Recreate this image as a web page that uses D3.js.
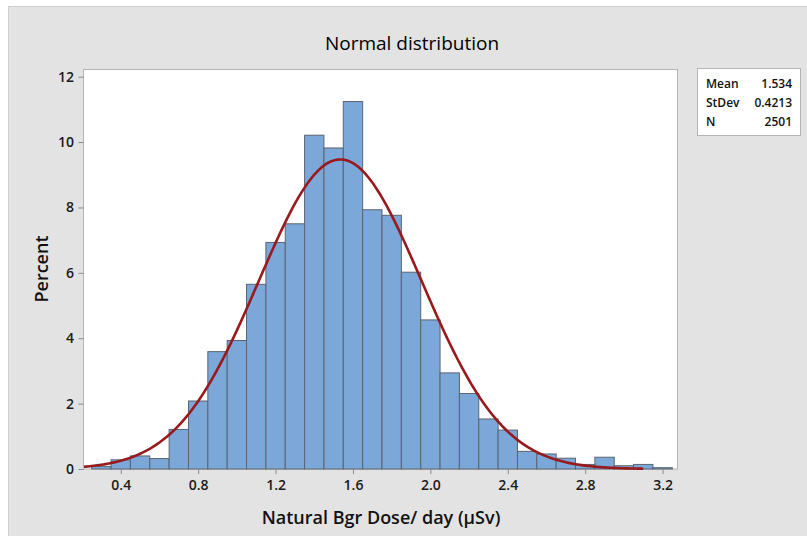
<!DOCTYPE html>
<html>
<head>
<meta charset="utf-8">
<script src="https://cdn.jsdelivr.net/npm/d3@7"></script>
<style>
	body { margin: 0; background: #fff; }
	text { font-family: "Open Sans", "Noto Sans", sans-serif; }
</style>
</head>
<body>
<div id="divplot"></div>
<script>
// Histogram of natural background dose, with fitted normal curve

const binCenters = [0.3, 0.4, 0.5, 0.6, 0.7, 0.8, 0.9, 1.0, 1.1, 1.2, 1.3, 1.4, 1.5, 1.6, 1.7,
	1.8, 1.9, 2.0, 2.1, 2.2, 2.3, 2.4, 2.5, 2.6, 2.7, 2.8, 2.9, 3.0, 3.1, 3.2]
const percents = [0.08, 0.28, 0.40, 0.32, 1.21, 2.08, 3.59, 3.93, 5.65, 6.93, 7.50, 10.21, 9.82, 11.24, 7.93,
	7.76, 6.02, 4.56, 2.94, 2.31, 1.53, 1.19, 0.54, 0.46, 0.33, 0.14, 0.36, 0.10, 0.14, 0.04]
const xTicks = [0.4, 0.8, 1.2, 1.6, 2.0, 2.4, 2.8, 3.2]
const yTicks = [0, 2, 4, 6, 8, 10, 12]
const statLabels = ['Mean', 'StDev', 'N']
const statValues = ['1.534', '0.4213', '2501']
const mean = 1.534
const stdev = 0.4213
const binWidth = 0.1

const plot = () => {
	let width = 807
	let height = 536

	let xScale = d3.scaleLinear()
		.domain([0.2075, 3.277])
		.range([83.5, 677.5])

	let yScale = d3.scaleLinear()
		.domain([0, 12.22])
		.range([469, 69.5])

	let svg = d3.select('#divplot')
		.append('svg:svg')
		.attr('width', width)
		.attr('height', height)

	// grey panel
	svg.append('rect')
		.attr('x', 8.5).attr('y', 6.5)
		.attr('width', width - 8).attr('height', height - 6)
		.attr('fill', '#e3e3e3')
		.attr('stroke', '#cfcfcf')

	// data region
	svg.append('rect')
		.attr('x', xScale.range()[0]).attr('y', yScale.range()[1])
		.attr('width', xScale.range()[1] - xScale.range()[0])
		.attr('height', yScale.range()[0] - yScale.range()[1])
		.attr('fill', '#fff')
		.attr('stroke', '#b4b4b4')

	svg.append('text')
		.attr('x', 412).attr('y', 50)
		.attr('text-anchor', 'middle')
		.attr('style', 'font-size: 19px; font-weight: 500')
		.attr('fill', '#000')
		.text('Normal distribution')

	// bars
	svg.selectAll('rect.bar')
		.data(binCenters)
		.enter()
		.append('rect')
		.attr('class', 'bar')
		.attr('x', d => xScale(d - binWidth / 2))
		.attr('y', (d, i) => yScale(percents[i]))
		.attr('width', d => xScale(d + binWidth / 2) - xScale(d - binWidth / 2))
		.attr('height', (d, i) => yScale(0) - yScale(percents[i]))
		.attr('fill', '#7ba7d9')
		.attr('stroke', '#5b6470')
		.attr('stroke-width', 1)

	// fitted normal curve, scaled to percent per bin
	let curveX = d3.range(0.21, 3.101, 0.01)
	let pdf = x => 100 * binWidth * Math.exp(-0.5 * ((x - mean) / stdev) ** 2) / (stdev * Math.sqrt(2 * Math.PI))
	svg.append('path')
		.datum(curveX)
		.attr('d', d3.line().x(d => xScale(d)).y(d => yScale(pdf(d))))
		.attr('fill', 'none')
		.attr('stroke', '#981a1d')
		.attr('stroke-width', 2.6)

	// axes
	let xAxis = svg.append('g')
		.attr('transform', `translate(0,${yScale(0)})`)
		.call(d3.axisBottom(xScale).tickValues(xTicks).tickFormat(d3.format('.1f')).tickSize(5).tickSizeOuter(0))
	let yAxis = svg.append('g')
		.attr('transform', `translate(${xScale.range()[0]},0)`)
		.call(d3.axisLeft(yScale).tickValues(yTicks).tickSize(5).tickSizeOuter(0))

	for (let ax of [xAxis, yAxis]) {
		ax.select('.domain').remove()
		ax.selectAll('line').attr('stroke', '#8a8a8a')
		ax.selectAll('text')
			.attr('style', 'font-size: 14px; font-weight: 600')
			.attr('fill', '#1a1a1a')
	}
	xAxis.selectAll('text').attr('dy', '0.95em')
	yAxis.selectAll('text').attr('dx', '-0.1em')

	svg.append('text')
		.attr('x', 381).attr('y', 524)
		.attr('text-anchor', 'middle')
		.attr('style', 'font-size: 18px; font-weight: 600')
		.attr('fill', '#111')
		.text('Natural Bgr Dose/ day (µSv)')

	svg.append('text')
		.attr('transform', 'translate(48,269) rotate(-90)')
		.attr('text-anchor', 'middle')
		.attr('style', 'font-size: 18px; font-weight: 600')
		.attr('fill', '#111')
		.text('Percent')

	// stats box
	svg.append('rect')
		.attr('x', 697.5).attr('y', 68.5)
		.attr('width', 103).attr('height', 67)
		.attr('fill', '#fff')
		.attr('stroke', '#b4b4b4')

	svg.selectAll('text.statLabel')
		.data(statLabels)
		.enter()
		.append('text')
		.attr('x', 706)
		.attr('y', (d, i) => 88 + i * 19)
		.attr('style', 'font-size: 12px; font-weight: 600')
		.attr('fill', '#111')
		.text(d => d)

	svg.selectAll('text.statValue')
		.data(statValues)
		.enter()
		.append('text')
		.attr('x', 792)
		.attr('y', (d, i) => 88 + i * 19)
		.attr('text-anchor', 'end')
		.attr('style', 'font-size: 12px; font-weight: 600')
		.attr('fill', '#111')
		.text(d => d)
}

plot()
</script>
</body>
</html>
